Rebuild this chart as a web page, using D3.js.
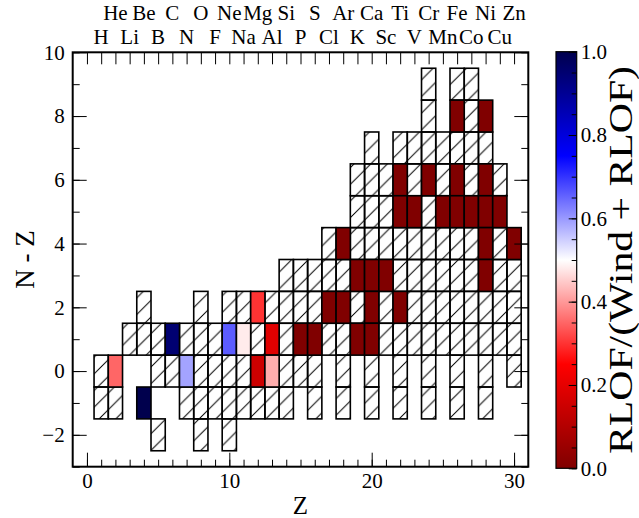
<!DOCTYPE html>
<html>
<head>
<meta charset="utf-8">
<script src="https://cdn.jsdelivr.net/npm/d3@7"></script>
<style>
  html, body { margin: 0; padding: 0; background: #fff; }
  svg { display: block; }
</style>
</head>
<body>
<div id="chart"></div>
<script>
// Element symbols shown along the top axis, Z = 1..30
const elements = ["H", "He", "Li", "Be", "B", "C", "N", "O", "F", "Ne", "Na", "Mg", "Al", "Si", "P",
                  "S", "Cl", "Ar", "K", "Ca", "Sc", "Ti", "V", "Cr", "Mn", "Fe", "Co", "Ni", "Cu", "Zn"];

// Hatched cells, one entry per row: [N - Z, list of Z]
const hatchedRows = [
    [9, [24, 26, 27]],
    [8, [24, 27]],
    [7, [20, 22, 23, 24, 25, 26, 27, 28]],
    [6, [19, 20, 21, 23, 25, 27, 29]],
    [5, [19, 20, 21, 24]],
    [4, [17, 19, 20, 21, 22, 23, 24, 25, 26, 27, 29]],
    [3, [14, 15, 16, 17, 18, 22, 23, 24, 25, 26, 27, 29, 30]],
    [2, [4, 8, 10, 11, 13, 14, 15, 16, 19, 21, 23, 24, 25, 26, 27, 28, 29, 30]],
    [1, [3, 4, 5, 7, 8, 9, 12, 14, 17, 18, 21, 22, 23, 24, 25, 26, 27, 28, 29, 30]],
    [0, [1, 5, 6, 8, 9, 10, 11, 14, 15, 16, 18, 20, 22, 24, 26, 28, 30]],
    [-1, [1, 2, 7, 8, 9, 10, 11, 12, 13, 14, 16, 18, 20, 22, 24, 26, 28]],
    [-2, [5, 8, 10]]
];

// Coloured cells: [Z, N - Z, RLOF/(Wind + RLOF)]
const fracCells = [
    [26, 8, 0], [28, 8, 0],
    [22, 6, 0], [24, 6, 0], [26, 6, 0], [28, 6, 0],
    [22, 5, 0], [23, 5, 0], [25, 5, 0], [26, 5, 0], [27, 5, 0], [28, 5, 0], [29, 5, 0],
    [18, 4, 0], [28, 4, 0], [30, 4, 0],
    [19, 3, 0], [20, 3, 0], [21, 3, 0], [28, 3, 0],
    [12, 2, 0.30], [17, 2, 0], [18, 2, 0], [20, 2, 0], [22, 2, 0],
    [6, 1, 0.95], [10, 1, 0.66], [11, 1, 0.48], [13, 1, 0.19],
    [15, 1, 0], [16, 1, 0], [19, 1, 0], [20, 1, 0],
    [2, 0, 0.35], [7, 0, 0.59], [12, 0, 0.15], [13, 0, 0.42],
    [4, -1, 1.0]
];

// Tick values
const xMajorTicks = [0, 10, 20, 30];
const yMajorTicks = [-2, 0, 2, 4, 6, 8, 10];
const cbarTicks = [0, 0.2, 0.4, 0.6, 0.8, 1.0];

// seismic_r colour map
const cmapStops = [0, 0.25, 0.5, 0.75, 1];
const cmapColors = ["#800000", "#ff0000", "#ffffff", "#0000ff", "#00004d"];

const CONFIG = {
    width: 639,
    height: 518,
    plot: { left: 72.7, right: 528.3, top: 52.3, bottom: 466.7 },
    cbar: { left: 556, right: 576.7 },
    font: '"Liberation Serif", "DejaVu Serif", serif',
    hatch: 16.67
};

function styleAxis(g, size) {
    g.attr("font-family", null).attr("font-size", null);
    g.select(".domain").remove();
    g.selectAll(".tick line").attr("stroke", "#000").attr("stroke-width", 1);
    g.selectAll(".tick text").attr("fill", "#000")
        .style("font-family", CONFIG.font).style("font-size", size + "px");
}

function renderChart() {
    const P = CONFIG.plot;
    const svg = d3.select("#chart").append("svg")
        .attr("width", CONFIG.width)
        .attr("height", CONFIG.height)
        .style("font-family", CONFIG.font);

    const x = d3.scaleLinear().domain([-1, 31]).range([P.left, P.right]);
    const y = d3.scaleLinear().domain([-3, 10]).range([P.bottom, P.top]);
    const color = d3.scaleLinear().domain(cmapStops).range(cmapColors);

    // hatch pattern, 45 degree lines
    const h = CONFIG.hatch;
    const defs = svg.append("defs");
    defs.append("pattern")
        .attr("id", "hatch")
        .attr("patternUnits", "userSpaceOnUse")
        .attr("width", h).attr("height", h)
        .attr("y", CONFIG.height % h)
        .append("path")
        .attr("d", `M0,${h} L${h},0 M${-h / 4},${h / 4} L${h / 4},${-h / 4} M${3 * h / 4},${5 * h / 4} L${5 * h / 4},${3 * h / 4}`)
        .attr("stroke", "#000").attr("stroke-width", 1);

    const cellX = z => x(z - 0.5);
    const cellY = k => y(k + 0.5);
    const cellW = x(1) - x(0);
    const cellH = y(0) - y(1);

    // hatched cells
    const hatched = hatchedRows.flatMap(([k, zs]) => zs.map(z => [z, k]));
    const gCells = svg.append("g");
    gCells.selectAll("rect.h").data(hatched).join("rect")
        .attr("class", "h")
        .attr("x", d => cellX(d[0])).attr("y", d => cellY(d[1]))
        .attr("width", cellW).attr("height", cellH)
        .attr("fill", "url(#hatch)")
        .attr("stroke", "#000").attr("stroke-width", 1.6);

    // coloured cells
    gCells.selectAll("rect.c").data(fracCells).join("rect")
        .attr("class", "c")
        .attr("x", d => cellX(d[0])).attr("y", d => cellY(d[1]))
        .attr("width", cellW).attr("height", cellH)
        .attr("fill", d => color(d[2]))
        .attr("stroke", "#000").attr("stroke-width", 1.6);

    // axes: ticks point inward
    const intTicks = d3.range(0, 31);
    svg.append("g").attr("transform", `translate(0,${P.bottom})`)
        .call(d3.axisBottom(x).tickValues(intTicks).tickSize(-7).tickFormat(""))
        .call(g => styleAxis(g, 21));
    svg.append("g").attr("transform", `translate(0,${P.bottom})`)
        .call(d3.axisBottom(x).tickValues(xMajorTicks).tickSize(-14).tickPadding(6).tickFormat(d3.format("d")))
        .call(g => styleAxis(g, 21));
    svg.append("g").attr("transform", `translate(0,${P.top})`)
        .call(d3.axisTop(x).tickValues(intTicks).tickSize(-12).tickFormat(""))
        .call(g => styleAxis(g, 21));

    const yMinor = d3.range(-3, 11);
    svg.append("g").attr("transform", `translate(${P.left},0)`)
        .call(d3.axisLeft(y).tickValues(yMinor).tickSize(-7).tickFormat(""))
        .call(g => styleAxis(g, 21));
    svg.append("g").attr("transform", `translate(${P.left},0)`)
        .call(d3.axisLeft(y).tickValues(yMajorTicks).tickSize(-14).tickPadding(8).tickFormat(d3.format("d")))
        .call(g => styleAxis(g, 21));
    svg.append("g").attr("transform", `translate(${P.right},0)`)
        .call(d3.axisRight(y).tickValues(yMinor).tickSize(-7).tickFormat(""))
        .call(g => styleAxis(g, 21));
    svg.append("g").attr("transform", `translate(${P.right},0)`)
        .call(d3.axisRight(y).tickValues(yMajorTicks).tickSize(-14).tickFormat(""))
        .call(g => styleAxis(g, 21));

    // frame
    svg.append("rect")
        .attr("x", P.left).attr("y", P.top)
        .attr("width", P.right - P.left).attr("height", P.bottom - P.top)
        .attr("fill", "none").attr("stroke", "#000").attr("stroke-width", 2);

    // element symbols, two staggered rows
    svg.append("g").selectAll("text").data(elements).join("text")
        .attr("x", (d, i) => x(i + 1))
        .attr("y", (d, i) => (i % 2 === 0 ? 43.5 : 19.5))
        .attr("text-anchor", "middle")
        .style("font-size", "21px")
        .text(d => d);

    // axis labels
    svg.append("text")
        .attr("x", (P.left + P.right) / 2).attr("y", 514)
        .attr("text-anchor", "middle").style("font-size", "25px")
        .text("Z");
    svg.append("text")
        .attr("transform", `translate(34,${(P.top + P.bottom) / 2}) rotate(-90)`)
        .attr("text-anchor", "middle").style("font-size", "27px")
        .text("N - Z");

    // colour bar
    const C = CONFIG.cbar;
    const cy = d3.scaleLinear().domain([0, 1]).range([P.bottom + 1.6, P.top - 0.6]);
    const grad = defs.append("linearGradient")
        .attr("id", "cbarGrad")
        .attr("x1", 0).attr("y1", 1).attr("x2", 0).attr("y2", 0);
    grad.selectAll("stop").data(cmapStops).join("stop")
        .attr("offset", d => d)
        .attr("stop-color", (d, i) => cmapColors[i]);
    svg.append("rect")
        .attr("x", C.left).attr("y", cy(1))
        .attr("width", C.right - C.left).attr("height", cy(0) - cy(1))
        .attr("fill", "url(#cbarGrad)");
    svg.append("g").attr("transform", `translate(${C.right},0)`)
        .call(d3.axisRight(cy).tickValues(d3.range(0, 21).map(i => i / 20)).tickSize(-5).tickFormat(""))
        .call(g => styleAxis(g, 21));
    svg.append("g").attr("transform", `translate(${C.right},0)`)
        .call(d3.axisRight(cy).tickValues(cbarTicks).tickSize(-8).tickPadding(4).tickFormat(d3.format(".1f")))
        .call(g => styleAxis(g, 21))
        .call(g => g.selectAll(".tick text").attr("x", 4));
    svg.append("rect")
        .attr("x", C.left).attr("y", cy(1))
        .attr("width", C.right - C.left).attr("height", cy(0) - cy(1))
        .attr("fill", "none").attr("stroke", "#000").attr("stroke-width", 1.2);

    svg.append("text")
        .attr("transform", `translate(632,${(cy(0) + cy(1)) / 2}) rotate(-90)`)
        .attr("text-anchor", "middle").style("font-size", "34px")
        .attr("textLength", 388).attr("lengthAdjust", "spacingAndGlyphs")
        .text("RLOF/(Wind + RLOF)");
}

document.addEventListener("DOMContentLoaded", renderChart);
</script>
</body>
</html>
